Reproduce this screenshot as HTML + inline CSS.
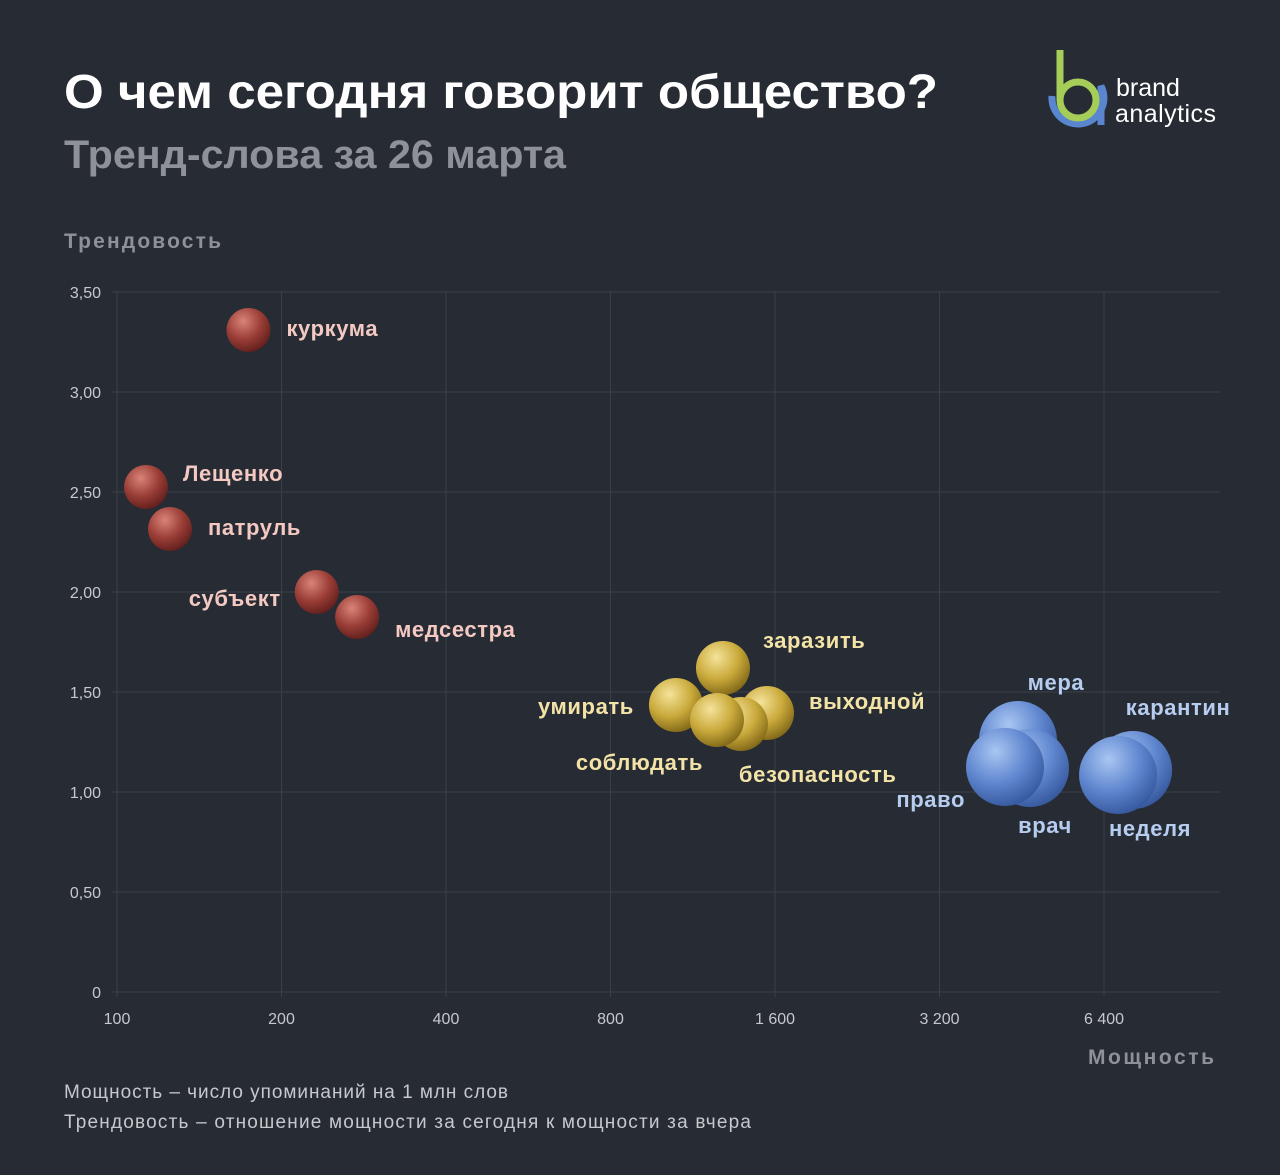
<!DOCTYPE html>
<html><head><meta charset="utf-8"><style>
body{margin:0;width:1280px;height:1170px;background:#262b34;overflow:hidden;font-family:"Liberation Sans","Noto Sans CJK SC",sans-serif}
</style></head><body>
<svg width="1280" height="1170" xmlns="http://www.w3.org/2000/svg">
<defs>
<radialGradient id="gr" cx="0.38" cy="0.3" r="0.75"><stop offset="0" stop-color="#d98378"/><stop offset="0.55" stop-color="#9a3d36"/><stop offset="1" stop-color="#5e1d1b"/></radialGradient>
<radialGradient id="gy" cx="0.38" cy="0.3" r="0.75"><stop offset="0" stop-color="#f5e39a"/><stop offset="0.55" stop-color="#c9a93a"/><stop offset="1" stop-color="#7d6416"/></radialGradient>
<radialGradient id="gb" cx="0.38" cy="0.3" r="0.75"><stop offset="0" stop-color="#a9c6f2"/><stop offset="0.55" stop-color="#5f86cf"/><stop offset="1" stop-color="#34559a"/></radialGradient>
</defs>
<text x="64" y="108" font-size="48" font-weight="bold" fill="#ffffff" textLength="874" lengthAdjust="spacingAndGlyphs">О чем сегодня говорит общество?</text>
<text x="64" y="168" font-size="40" font-weight="bold" fill="#8e9198" textLength="502" lengthAdjust="spacingAndGlyphs">Тренд-слова за 26 марта</text>
<g>
<path d="M1052 96 A26 26 0 1 0 1101 86 L1101 125" fill="none" stroke="#5a86d0" stroke-width="7"/>
<circle cx="1078" cy="100" r="18" fill="none" stroke="#a6cd57" stroke-width="7"/>
<line x1="1060" y1="50" x2="1060" y2="100" stroke="#a6cd57" stroke-width="7"/>
<text x="1116" y="96" font-size="25" fill="#fff">brand</text>
<text x="1115" y="122" font-size="25" fill="#fff" textLength="101">analytics</text>
</g>
<text x="64" y="248" font-size="21" font-weight="bold" fill="#8e9198" textLength="157">Трендовость</text>
<text x="1088" y="1064" font-size="21" font-weight="bold" fill="#8e9198" textLength="126">Мощность</text>
<text x="64" y="1098" font-size="19" fill="#c6c8cc" textLength="444">Мощность – число упоминаний на 1 млн слов</text>
<text x="64" y="1128" font-size="19" fill="#c6c8cc" textLength="687">Трендовость – отношение мощности за сегодня к мощности за вчера</text>
<g id="grid"></g><g id="marks"></g>
</svg>
<script>
const words=["куркума","Лещенко","патруль","субъект","медсестра","заразить","умирать","выходной","безопасность","соблюдать","мера","врач","право","карантин","неделя"];
const power=[174,113,125,232,275,1285,1054,1547,1386,1253,4454,4686,4217,7235,6790];
const trend=[3.31,2.525,2.315,2.0,1.875,1.62,1.435,1.395,1.34,1.36,1.26,1.12,1.125,1.11,1.085];
const group=["r","r","r","r","r","y","y","y","y","y","b","b","b","b","b"];
const xTicks=[100,200,400,800,1600,3200,6400];
const xTickLabels=["100","200","400","800","1 600","3 200","6 400"];
const yTicks=[0,0.5,1,1.5,2,2.5,3,3.5];
const yTickLabels=["0","0,50","1,00","1,50","2,00","2,50","3,00","3,50"];
const NS="http://www.w3.org/2000/svg";
const X=v=>117+164.5*Math.log2(v/100);
const Y=v=>992-200*v;
const radius={r:22,y:27,b:39};
const fill={r:"url(#gr)",y:"url(#gy)",b:"url(#gb)"};
const lblColor={r:"#f3c9c2",y:"#f3e3a6",b:"#b7cdf0"};
const lblOff=[[38,6,"start"],[37,-6,"start"],[38,6,"start"],[-36,14,"end"],[38,20,"start"],[40,-20,"start"],[-42,9,"end"],[42,-4,"start"],[-2,58,"start"],[-14,50,"end"],[38,-50,"middle"],[15,65,"middle"],[-40,40,"end"],[45,-55,"middle"],[32,61,"middle"]];
const grid=document.getElementById('grid'),marks=document.getElementById('marks');
function mk(t,a,p){const e=document.createElementNS(NS,t);for(const k in a)e.setAttribute(k,a[k]);p.appendChild(e);return e;}
yTicks.forEach((v,i)=>{
 const l=mk('line',{x1:112,x2:1220,y1:Y(v),y2:Y(v),stroke:"#3a3f48","stroke-width":1},grid);
 
 
 const t=mk('text',{x:101,y:Y(v)+6,"text-anchor":"end","font-size":16,fill:"#c6c8cc"},grid);t.textContent=yTickLabels[i];
 
 
});
xTicks.forEach((v,i)=>{
 const l=mk('line',{x1:X(v),x2:X(v),y1:292,y2:997,stroke:"#3a3f48","stroke-width":1},grid);
 
 
 const t=mk('text',{x:X(v),y:1024,"text-anchor":"middle","font-size":16,fill:"#c6c8cc"},grid);t.textContent=xTickLabels[i];
 
 
});
words.forEach((w,i)=>{
 const g=group[i];
 const c=mk('circle',{cx:X(power[i]),cy:Y(trend[i]),r:radius[g],fill:fill[g]},marks);
 
 
});
words.forEach((w,i)=>{
 const g=group[i],o=lblOff[i];
 const t=mk('text',{x:X(power[i])+o[0],y:Y(trend[i])+o[1],"text-anchor":o[2],"font-size":22,"font-weight":"bold",fill:lblColor[g],"letter-spacing":"0.6"},marks);
 t.textContent=w;
 
 
});
</script>
</body></html>
